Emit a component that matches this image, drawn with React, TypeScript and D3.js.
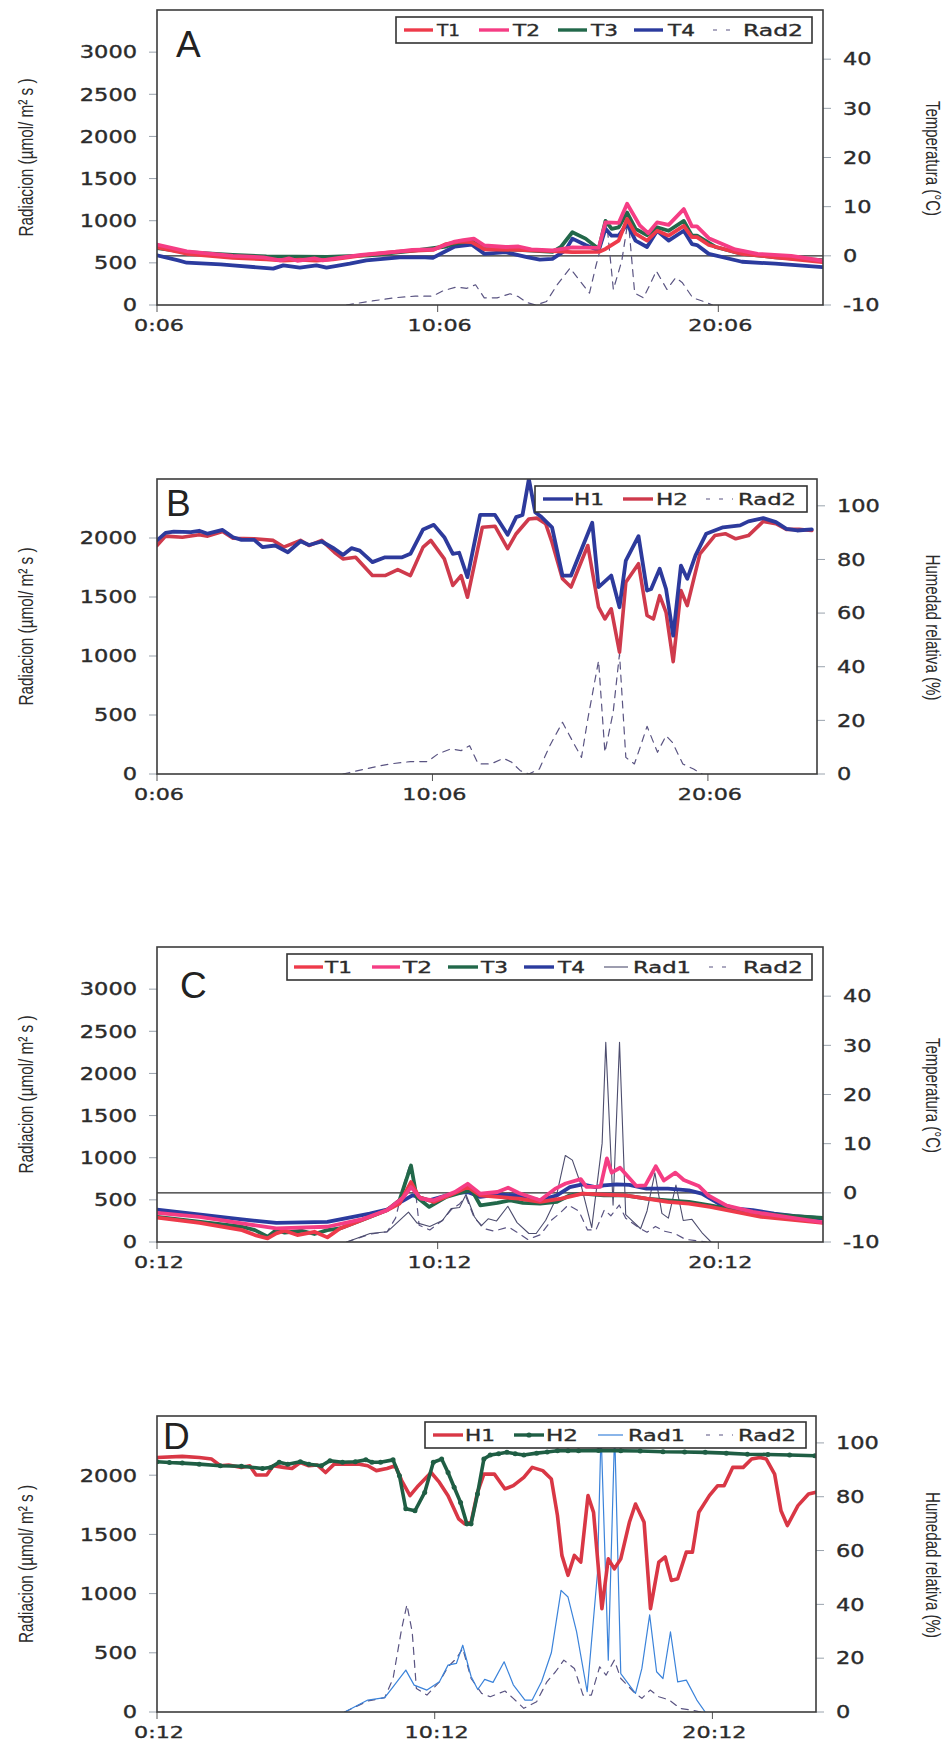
import React from 'react';
import * as d3 from 'd3';

type P = [number, number];

// ---------- Day 1 (panels A & B), hours after 0:06 ----------
const day1T1: P[] = [[0,1.76],[1.06,0.42],[2.7,-0.4],[3.9,-0.7],[4.5,-0.95],[5.09,-0.8],[5.68,-0.95],[6.27,-0.7],[7.46,0.2],[8.65,0.9],[9.83,1.2],[10.3,2.4],[10.78,2.9],[11.21,2.8],[11.67,1.3],[12.88,1.22],[14.09,0.95],[14.8,0.75],[15.74,0.8],[15.98,1.4],[16.45,3.1],[16.75,7.5],[17.05,4.5],[17.46,3.1],[17.82,5.1],[18.23,4.1],[18.77,6.1],[19.06,3.8],[19.24,3.8],[19.66,2.2],[20.84,0.4],[22.03,-0.3],[23.71,-1.3]];
const day1T2: P[] = [[0,2.3],[1.06,0.9],[2.7,0.0],[3.79,-0.3],[4.39,-0.93],[4.7,-0.5],[5.0,-1.0],[5.61,-0.5],[5.91,-0.93],[6.36,-0.5],[7.27,0.2],[8.65,0.9],[9.09,1.2],[9.85,1.3],[10.61,2.9],[10.91,3.2],[11.29,3.5],[11.67,2.1],[12.42,1.8],[12.88,1.9],[13.33,1.3],[14.09,1.1],[14.8,1.7],[15.74,1.6],[15.98,6.8],[16.45,6.7],[16.75,10.6],[17.2,6.2],[17.5,4.6],[17.82,6.8],[18.23,6.3],[18.77,9.5],[19.06,6.0],[19.24,6.0],[19.66,3.6],[20.6,1.3],[21.4,0.4],[22.6,0.0],[23.71,-1.0]];
const day1T3: P[] = [[0,1.6],[1.06,0.75],[2.7,0.2],[3.9,-0.1],[6.06,-0.2],[7.58,0.1],[9.09,1.0],[10.3,1.9],[10.61,2.5],[11.21,3.0],[11.67,1.4],[12.88,1.2],[14.09,0.8],[14.39,1.8],[14.8,4.8],[15.27,3.5],[15.74,1.4],[15.98,7.1],[16.2,5.5],[16.45,5.8],[16.75,8.8],[17.05,5.5],[17.46,4.2],[17.82,5.8],[18.23,5.1],[18.77,7.1],[19.06,4.1],[19.24,4.1],[19.9,1.8],[20.84,0.4],[22.03,-0.3],[23.71,-0.9]];
const day1T4: P[] = [[0,0.1],[0.76,-0.93],[1.06,-1.4],[2.27,-1.73],[2.7,-1.94],[4.14,-2.6],[4.5,-1.94],[5.09,-2.4],[5.68,-1.94],[6.04,-2.4],[6.87,-1.6],[7.46,-0.93],[8.65,-0.3],[9.55,-0.3],[9.83,-0.4],[10.61,1.9],[11.21,2.3],[11.67,0.4],[12.42,0.75],[13.18,-0.26],[13.64,-0.79],[14.09,-0.6],[14.55,1.1],[14.8,3.5],[15.27,2.2],[15.74,1.1],[15.98,5.5],[16.2,4.1],[16.45,4.1],[16.75,6.5],[17.05,3.1],[17.46,1.8],[17.82,5.1],[18.23,3.1],[18.77,5.1],[19.06,2.4],[19.24,2.2],[19.66,0.4],[20.84,-1.2],[22.03,-1.6],[23.71,-2.3]];
const day1H1: P[] = [[0,87.1],[0.31,89.9],[0.61,90.4],[1.23,90.2],[1.53,90.7],[1.84,89.6],[2.38,91.0],[2.76,88.3],[3.07,87.3],[3.53,87.3],[3.83,84.6],[4.29,85.2],[4.75,82.7],[5.21,86.8],[5.52,85.4],[5.98,86.7],[6.44,84.0],[6.75,81.7],[7.06,84.2],[7.36,83.3],[7.82,79.0],[8.28,80.8],[8.9,80.8],[9.2,82.1],[9.66,91.2],[10.05,92.9],[10.43,88.3],[10.74,82.1],[10.97,82.5],[11.27,73.4],[11.73,96.6],[12.27,96.6],[12.73,89.2],[13.04,95.8],[13.27,96.6],[13.5,110],[13.73,97.6],[13.96,95.8],[14.34,92.0],[14.72,74.0],[15.03,74.0],[15.8,93.7],[16.03,69.7],[16.49,74.0],[16.79,62.2],[17.02,79.6],[17.48,88.7],[17.79,68.4],[17.94,69.0],[18.25,76.5],[18.48,69.0],[18.74,51.6],[19.02,77.7],[19.25,72.8],[19.55,81.5],[19.94,89.6],[20.55,92.0],[21.17,92.7],[21.47,94.2],[22.01,95.4],[22.47,93.9],[22.85,91.4],[23.24,90.8],[23.77,91.2]];
const day1H2: P[] = [[0,85.2],[0.31,88.7],[0.92,88.3],[1.53,89.2],[1.84,88.7],[2.38,90.4],[2.76,87.9],[3.53,87.7],[4.22,87.1],[4.6,84.6],[5.21,87.1],[5.52,85.2],[5.98,87.1],[6.44,82.7],[6.75,80.2],[7.21,80.8],[7.82,74.0],[8.28,74.0],[8.74,76.2],[9.2,74.0],[9.66,84.6],[9.94,87.1],[10.43,80.2],[10.74,70.3],[11.04,74.0],[11.27,65.9],[11.81,92.0],[12.27,92.4],[12.73,84.0],[13.04,89.6],[13.5,95.1],[13.8,95.4],[14.11,93.3],[14.34,86.4],[14.72,72.8],[15.03,69.7],[15.64,85.2],[16.03,62.2],[16.26,57.8],[16.49,61.6],[16.79,45.4],[17.02,71.5],[17.48,78.4],[17.79,59.1],[18.02,57.8],[18.25,66.5],[18.48,60.3],[18.74,41.9],[19.02,68.4],[19.25,62.8],[19.71,82.1],[20.25,88.9],[20.63,89.6],[21.01,87.7],[21.47,88.9],[22.01,94.2],[22.47,93.3],[22.85,91.2],[23.31,91.2],[23.77,90.8]];
const day1Rad2: P[] = [[6.75,0],[7.67,48],[8.44,85],[9.2,105],[9.82,105],[10.2,170],[10.66,212],[11.04,198],[11.35,240],[11.66,85],[12.12,85],[12.58,133],[12.88,99],[13.19,28],[13.5,0],[13.88,42],[14.26,240],[14.72,438],[15.11,268],[15.41,141],[15.64,466],[16.03,960],[16.26,184],[16.56,523],[16.79,1017],[17.02,141],[17.33,85],[17.56,240],[17.79,404],[18.17,184],[18.48,325],[18.71,268],[19.09,85],[19.48,42],[19.79,0]];

// ---------- Day 2 (panels C & D), hours after 0:12 ----------
const day2T1: P[] = [[0,-5.02],[1.52,-6.09],[3.03,-7.58],[3.49,-8.59],[3.94,-9.26],[4.25,-8.25],[4.55,-7.71],[5.0,-8.59],[5.61,-7.92],[6.07,-9.06],[6.52,-7.24],[7.28,-5.56],[8.19,-3.54],[8.64,-2.19],[9.05,2.19],[9.33,-0.84],[9.86,-1.85],[10.61,-0.03],[11.07,1.18],[11.52,-0.5],[12.13,-0.84],[12.89,-1.18],[13.65,-1.85],[14.4,-1.18],[15.16,-0.17],[15.92,-0.37],[16.68,-0.5],[17.44,-1.18],[18.2,-1.85],[18.95,-2.19],[19.71,-2.86],[20.62,-3.87],[21.53,-4.88],[22.74,-5.56],[23.73,-6.1]];
const day2T2: P[] = [[0,-4.07],[1.52,-4.88],[3.03,-6.23],[4.25,-7.24],[6.07,-6.9],[7.28,-5.42],[8.19,-3.54],[8.79,-0.84],[9.05,1.18],[9.4,-1.18],[9.86,-1.52],[10.61,0.17],[11.07,1.85],[11.52,-0.17],[12.13,0.17],[12.51,1.04],[12.89,-0.03],[13.65,-1.52],[14.18,0.8],[14.56,1.9],[15.1,2.8],[15.3,1.2],[15.8,1.2],[16.03,7.0],[16.2,4.1],[16.5,5.1],[17.08,1.4],[17.4,1.5],[17.77,5.4],[18.06,2.5],[18.47,4.1],[18.77,2.6],[19.3,1.4],[19.66,-0.6],[20.3,-2.6],[21.23,-3.87],[21.99,-4.55],[23.73,-6.0]];
const day2T3: P[] = [[0,-4.88],[3.03,-6.9],[3.49,-7.58],[3.94,-8.92],[4.25,-7.58],[4.55,-8.11],[5.16,-7.71],[5.61,-8.38],[6.07,-7.58],[6.52,-7.24],[7.28,-5.56],[8.19,-3.54],[8.64,-1.52],[9.05,5.56],[9.25,-0.84],[9.7,-2.86],[10.31,-0.84],[10.92,0.17],[11.22,0.5],[11.52,-2.53],[12.13,-2.05],[12.59,-1.52],[13.04,-2.05],[13.65,-2.19],[14.25,-1.85],[14.71,-0.5],[15.16,-0.17],[15.92,-0.5],[16.68,-0.5],[17.44,-1.18],[18.2,-1.52],[18.95,-1.85],[19.71,-2.53],[20.62,-3.54],[21.53,-4.21],[22.74,-4.75],[23.73,-5.1]];
const day2T4: P[] = [[0,-3.4],[3.03,-5.42],[4.25,-6.09],[6.07,-5.89],[7.58,-4.21],[8.19,-3.4],[8.79,-1.52],[9.1,-0.5],[9.7,-1.52],[10.61,-0.03],[11.07,0.17],[11.52,-0.84],[12.13,-0.37],[12.89,-0.5],[13.65,-1.52],[14.25,-0.5],[14.71,1.18],[15.16,1.72],[15.62,1.18],[15.92,1.52],[16.38,1.72],[16.83,1.6],[17.44,0.84],[18.2,0.84],[18.95,0.5],[19.41,-0.17],[20.02,-2.19],[20.62,-3.2],[21.23,-3.54],[21.99,-4.21],[22.74,-4.75],[23.73,-5.22]];
const day2H1: P[] = [[0,94.6],[0.91,95.0],[1.52,94.6],[1.97,94.0],[2.28,91.5],[2.58,91.8],[3.04,90.9],[3.34,91.5],[3.57,88.1],[3.95,88.1],[4.18,91.5],[4.56,90.9],[4.86,90.5],[5.16,92.7],[5.47,91.5],[5.77,91.8],[6.07,89.0],[6.38,92.1],[6.83,92.1],[7.29,92.1],[7.59,91.5],[7.9,89.7],[8.28,90.5],[8.58,91.5],[8.81,86.0],[9.11,80.4],[9.41,84.1],[9.87,89.0],[10.17,85.3],[10.48,80.4],[10.86,71.8],[11.08,69.9],[11.31,70.5],[11.54,81.6],[11.77,88.4],[12.15,88.4],[12.53,82.9],[12.83,84.1],[13.21,87.2],[13.51,90.9],[13.89,89.7],[14.2,86.6],[14.42,73.0],[14.58,58.2],[14.8,50.8],[15.03,58.2],[15.26,55.7],[15.52,80.4],[15.72,74.2],[16.02,38.4],[16.25,56.9],[16.47,53.2],[16.7,56.9],[17.01,70.5],[17.23,77.3],[17.54,70.5],[17.77,38.4],[18.07,55.7],[18.3,57.6],[18.52,48.9],[18.75,49.5],[19.06,59.4],[19.28,59.4],[19.51,74.2],[19.89,80.4],[20.19,84.1],[20.42,84.1],[20.73,90.9],[21.11,90.9],[21.41,94.0],[21.71,94.6],[21.94,94.0],[22.24,88.4],[22.47,74.8],[22.7,69.3],[23.08,76.7],[23.46,81.0],[23.69,81.6]];
const day2H2: P[] = [[0,93.0],[0.45,92.7],[0.91,92.5],[1.52,92.1],[2.28,91.5],[3.04,91.3],[3.8,90.5],[4.1,90.9],[4.4,92.8],[4.71,92.1],[5.16,93.0],[5.47,92.1],[5.92,91.5],[6.23,93.4],[6.68,92.8],[7.14,93.0],[7.52,93.7],[7.74,92.8],[8.05,92.8],[8.5,93.7],[8.73,87.8],[8.96,75.5],[9.29,74.8],[9.64,81.6],[9.95,92.8],[10.25,94.0],[10.48,89.0],[10.7,83.5],[10.93,77.9],[11.16,69.9],[11.31,69.9],[11.54,81.0],[11.77,94.0],[12.0,95.5],[12.3,96.0],[12.6,96.5],[12.9,96.0],[13.21,95.5],[13.67,96.2],[14.05,96.6],[14.42,97.1],[14.8,97.1],[15.18,97.1],[15.9,97.2],[16.7,97.1],[17.4,97.0],[18.22,96.7],[19.0,96.6],[19.74,96.5],[20.5,96.2],[21.26,95.8],[22.0,95.7],[22.78,95.5],[23.69,95.2]];
const day2Rad1: P[] = [[6.76,0],[7.59,101],[8.2,121],[8.5,213],[8.96,354],[9.26,227],[9.72,185],[10.17,255],[10.48,396],[10.78,410],[11.01,564],[11.31,300],[11.55,190],[11.8,275],[12.1,250],[12.5,424],[12.83,230],[13.25,101],[13.51,101],[13.85,258],[14.2,500],[14.55,1027],[14.8,971],[15.11,676],[15.49,171],[15.86,1170],[15.99,2370],[16.25,438],[16.48,2370],[16.7,325],[17.23,157],[17.46,368],[17.74,820],[17.99,340],[18.22,283],[18.49,676],[18.75,255],[19.06,269],[19.44,101],[19.74,0]];
const day2Rad2: P[] = [[6.76,0],[7.59,93],[8.2,121],[8.5,283],[8.81,704],[9.0,906],[9.19,676],[9.34,199],[9.72,143],[10.17,255],[10.48,382],[10.78,452],[11.01,536],[11.31,283],[11.69,157],[12.0,129],[12.53,177],[12.83,115],[13.21,31],[13.67,87],[14.04,255],[14.35,340],[14.65,438],[15.03,368],[15.34,143],[15.64,143],[15.94,382],[16.17,311],[16.47,438],[16.7,283],[17.16,171],[17.46,115],[17.76,185],[18.07,129],[18.45,101],[18.83,31],[19.21,17],[19.59,0]];

// ---------- axis ticks / labels ----------
const radTicksA = [0, 500, 1000, 1500, 2000, 2500, 3000];
const radTicksB = [0, 500, 1000, 1500, 2000];
const tempTicks = [-10, 0, 10, 20, 30, 40];
const humTicks = [0, 20, 40, 60, 80, 100];
const timeTickHours = [0, 10, 20];
const timeLabels1 = ['0:06', '10:06', '20:06'];
const timeLabels2 = ['0:12', '10:12', '20:12'];

const radTitle = 'Radiacion (\u00b5mol/ m\u00b2 s )';
const tempTitle = 'Temperatura (\u00b0C)';
const humTitle = 'Humedad relativa (%)';

// ---------- styles ----------
const TICKFONT = '"DejaVu Sans", Verdana, sans-serif';
const TITLEFONT = '"Liberation Sans Narrow", "Liberation Sans", Arial, sans-serif';
const INK = '#2b2b2b';

type Style = { color: string; width: number; dash?: string; dots?: boolean };
type Series = { name: string; data: P[]; axis: 'L' | 'R'; style: Style };
type LegItem = { name: string; x0: number; x1: number; tx: number; tw: number };
type PanelCfg = {
  letter: string; lx: number; ly: number;
  left: number; top: number; right: number; bottom: number;
  xDomain: [number, number]; lDomain: [number, number]; rDomain: [number, number];
  lTicks: number[]; rTicks: number[]; xLabels: string[];
  rTitle: string; rTitleLen: number; zeroLine: boolean;
  series: Series[];
  legBox: [number, number, number, number];
  legend: LegItem[];
};

const sT1: Style = { color: '#ee3a4a', width: 3.8 };
const sT2: Style = { color: '#f53d84', width: 3.8 };
const sT3: Style = { color: '#22684a', width: 3.8 };
const sT4: Style = { color: '#2b3b9e', width: 3.8 };
const sRad2: Style = { color: '#5a5482', width: 1.2, dash: '7,6' };
const sRad1C: Style = { color: '#4d4d6e', width: 1.1 };
const sRad1D: Style = { color: '#3b83da', width: 1.2 };
const sH1B: Style = { color: '#2d3a9c', width: 3.8 };
const sH2B: Style = { color: '#cf3a4c', width: 3.6 };
const sH1D: Style = { color: '#d93745', width: 3.6 };
const sH2D: Style = { color: '#1f5e44', width: 3.6, dots: true };

const panels: PanelCfg[] = [
  {
    letter: 'A', lx: 176, ly: 57,
    left: 157, top: 10, right: 823, bottom: 305,
    xDomain: [0, 23.73], lDomain: [0, 3500], rDomain: [-10, 50],
    lTicks: radTicksA, rTicks: tempTicks, xLabels: timeLabels1,
    rTitle: tempTitle, rTitleLen: 115, zeroLine: true,
    series: [
      { name: 'Rad2', data: day1Rad2, axis: 'L', style: sRad2 },
      { name: 'T4', data: day1T4, axis: 'R', style: sT4 },
      { name: 'T3', data: day1T3, axis: 'R', style: sT3 },
      { name: 'T1', data: day1T1, axis: 'R', style: sT1 },
      { name: 'T2', data: day1T2, axis: 'R', style: sT2 },
    ],
    legBox: [396, 17, 812, 43],
    legend: [
      { name: 'T1', x0: 404, x1: 433, tx: 437, tw: 23 },
      { name: 'T2', x0: 479, x1: 509, tx: 513, tw: 27 },
      { name: 'T3', x0: 558, x1: 587, tx: 591, tw: 27 },
      { name: 'T4', x0: 634, x1: 663, tx: 668, tw: 27 },
      { name: 'Rad2', x0: 713, x1: 737, tx: 743, tw: 60 },
    ],
  },
  {
    letter: 'B', lx: 166, ly: 516,
    left: 157, top: 479, right: 817, bottom: 774,
    xDomain: [0, 23.96], lDomain: [0, 2500], rDomain: [0, 110],
    lTicks: radTicksB, rTicks: humTicks, xLabels: timeLabels1,
    rTitle: humTitle, rTitleLen: 146, zeroLine: false,
    series: [
      { name: 'Rad2', data: day1Rad2, axis: 'L', style: sRad2 },
      { name: 'H2', data: day1H2, axis: 'R', style: sH2B },
      { name: 'H1', data: day1H1, axis: 'R', style: sH1B },
    ],
    legBox: [535, 486, 807, 512],
    legend: [
      { name: 'H1', x0: 543, x1: 573, tx: 574, tw: 30 },
      { name: 'H2', x0: 623, x1: 653, tx: 656, tw: 32 },
      { name: 'Rad2', x0: 706, x1: 733, tx: 738, tw: 58 },
    ],
  },
  {
    letter: 'C', lx: 180, ly: 998,
    left: 157, top: 947, right: 823, bottom: 1242,
    xDomain: [0, 23.73], lDomain: [0, 3500], rDomain: [-10, 50],
    lTicks: radTicksA, rTicks: tempTicks, xLabels: timeLabels2,
    rTitle: tempTitle, rTitleLen: 115, zeroLine: true,
    series: [
      { name: 'Rad2', data: day2Rad2, axis: 'L', style: sRad2 },
      { name: 'Rad1', data: day2Rad1, axis: 'L', style: sRad1C },
      { name: 'T4', data: day2T4, axis: 'R', style: sT4 },
      { name: 'T3', data: day2T3, axis: 'R', style: sT3 },
      { name: 'T1', data: day2T1, axis: 'R', style: sT1 },
      { name: 'T2', data: day2T2, axis: 'R', style: sT2 },
    ],
    legBox: [287, 954, 812, 980],
    legend: [
      { name: 'T1', x0: 294, x1: 323, tx: 325, tw: 27 },
      { name: 'T2', x0: 372, x1: 400, tx: 403, tw: 29 },
      { name: 'T3', x0: 448, x1: 478, tx: 481, tw: 27 },
      { name: 'T4', x0: 524, x1: 554, tx: 558, tw: 27 },
      { name: 'Rad1', x0: 604, x1: 628, tx: 633, tw: 58 },
      { name: 'Rad2', x0: 709, x1: 730, tx: 743, tw: 60 },
    ],
  },
  {
    letter: 'D', lx: 163, ly: 1449,
    left: 157, top: 1416, right: 816, bottom: 1712,
    xDomain: [0, 23.73], lDomain: [0, 2500], rDomain: [0, 110],
    lTicks: radTicksB, rTicks: humTicks, xLabels: timeLabels2,
    rTitle: humTitle, rTitleLen: 146, zeroLine: false,
    series: [
      { name: 'Rad2', data: day2Rad2, axis: 'L', style: sRad2 },
      { name: 'Rad1', data: day2Rad1, axis: 'L', style: sRad1D },
      { name: 'H1', data: day2H1, axis: 'R', style: sH1D },
      { name: 'H2', data: day2H2, axis: 'R', style: sH2D },
    ],
    legBox: [425, 1422, 806, 1448],
    legend: [
      { name: 'H1', x0: 433, x1: 463, tx: 465, tw: 30 },
      { name: 'H2', x0: 514, x1: 544, tx: 546, tw: 32 },
      { name: 'Rad1', x0: 598, x1: 623, tx: 628, tw: 57 },
      { name: 'Rad2', x0: 706, x1: 733, tx: 738, tw: 58 },
    ],
  },
];

function tickW(s: string): number {
  let w = 0;
  for (const c of s) w += c === ':' ? 7 : c === '-' ? 8 : 14.3;
  return w;
}

function Panel({ cfg, idx }: { cfg: PanelCfg; idx: number }) {
  const x = d3.scaleLinear().domain(cfg.xDomain).range([cfg.left, cfg.right]);
  const yL = d3.scaleLinear().domain(cfg.lDomain).range([cfg.bottom, cfg.top]);
  const yR = d3.scaleLinear().domain(cfg.rDomain).range([cfg.bottom, cfg.top]);
  const clipId = `clip${idx}`;
  const cy = (cfg.top + cfg.bottom) / 2;
  const legCy = (cfg.legBox[1] + cfg.legBox[3]) / 2;
  const styleOf = (name: string) => cfg.series.find((s) => s.name === name)!.style;
  const tickText = { fontFamily: TICKFONT, fill: INK, stroke: INK, strokeWidth: 0.35 };

  return (
    <g>
      <defs>
        <clipPath id={clipId}>
          <rect x={cfg.left} y={cfg.top} width={cfg.right - cfg.left} height={cfg.bottom - cfg.top} />
        </clipPath>
      </defs>

      {cfg.lTicks.map((t) => {
        const yy = yL(t);
        const s = String(t);
        const w = tickW(s);
        return (
          <g key={'l' + t}>
            <line x1={cfg.left - 8} x2={cfg.left} y1={yy} y2={yy} stroke="#9aa3ad" strokeWidth={1} />
            <text x={cfg.left - 20 - w} y={yy + 6.3} fontSize={17} {...tickText}
              textLength={w} lengthAdjust="spacingAndGlyphs">{s}</text>
          </g>
        );
      })}
      {cfg.rTicks.map((t) => {
        const yy = yR(t);
        const s = String(t);
        const w = tickW(s);
        return (
          <g key={'r' + t}>
            <line x1={cfg.right} x2={cfg.right + 8} y1={yy} y2={yy} stroke="#9aa3ad" strokeWidth={1} />
            <text x={cfg.right + 20} y={yy + 6.3} fontSize={17} {...tickText}
              textLength={w} lengthAdjust="spacingAndGlyphs">{s}</text>
          </g>
        );
      })}
      {timeTickHours.map((h, i) => {
        const xx = x(h);
        const s = cfg.xLabels[i];
        const w = tickW(s);
        return (
          <g key={'x' + h}>
            <line x1={xx} x2={xx} y1={cfg.bottom} y2={cfg.bottom + 7} stroke="#555" strokeWidth={1} />
            <text x={xx - w / 2 + 2} y={cfg.bottom + 25.5} fontSize={16.5} {...tickText}
              textLength={w} lengthAdjust="spacingAndGlyphs">{s}</text>
          </g>
        );
      })}

      <text transform={`translate(25,${cy}) rotate(-90)`} textAnchor="middle" dominantBaseline="central"
        fontFamily={TITLEFONT} fontSize={21} fill={INK} textLength={158} lengthAdjust="spacingAndGlyphs">
        {radTitle}
      </text>
      <text transform={`translate(933,${cy + 1}) rotate(90)`} textAnchor="middle" dominantBaseline="central"
        fontFamily={TITLEFONT} fontSize={21} fill={INK} textLength={cfg.rTitleLen} lengthAdjust="spacingAndGlyphs">
        {cfg.rTitle}
      </text>

      <g clipPath={`url(#${clipId})`}>
        {cfg.zeroLine && (
          <line x1={cfg.left} x2={cfg.right} y1={yR(0)} y2={yR(0)} stroke="#2a2a2a" strokeWidth={1.3} />
        )}
        {cfg.series.map((s) => {
          const ys = s.axis === 'L' ? yL : yR;
          const path = d3.line<P>().x((d) => x(d[0])).y((d) => ys(d[1]))(s.data) || '';
          return (
            <g key={s.name}>
              <path d={path} fill="none" stroke={s.style.color} strokeWidth={s.style.width}
                strokeDasharray={s.style.dash} strokeLinejoin="round" strokeLinecap="round" />
              {s.style.dots && s.data.map((d, i) => (
                <circle key={i} cx={x(d[0])} cy={ys(d[1])} r={2.5} fill={s.style.color} />
              ))}
            </g>
          );
        })}
      </g>

      <rect x={cfg.left} y={cfg.top} width={cfg.right - cfg.left} height={cfg.bottom - cfg.top}
        fill="none" stroke="#3c3c3c" strokeWidth={1.6} />

      <text x={cfg.lx} y={cfg.ly} fontFamily='"Liberation Sans", Arial, sans-serif' fontSize={37} fill="#222">
        {cfg.letter}
      </text>

      <rect x={cfg.legBox[0]} y={cfg.legBox[1]} width={cfg.legBox[2] - cfg.legBox[0]}
        height={cfg.legBox[3] - cfg.legBox[1]} fill="#fff" stroke="#333" strokeWidth={1.6} />
      {cfg.legend.map((it) => {
        const st = styleOf(it.name);
        return (
          <g key={'lg' + it.name}>
            <line x1={it.x0} x2={it.x1} y1={legCy} y2={legCy} stroke={st.color}
              strokeWidth={Math.min(st.width, 3.4)} strokeDasharray={st.dash ? '4,9' : undefined} />
            {st.dots && <circle cx={(it.x0 + it.x1) / 2} cy={legCy} r={2.6} fill={st.color} />}
            <text x={it.tx} y={legCy + 5.6} fontSize={15.5} {...tickText}
              textLength={it.tw} lengthAdjust="spacingAndGlyphs">{it.name}</text>
          </g>
        );
      })}
    </g>
  );
}

export default function App() {
  return (
    <svg width={952} height={1745} viewBox="0 0 952 1745"
      style={{ position: 'absolute', left: 0, top: 0, background: '#fff' }}>
      <rect x={0} y={0} width={952} height={1745} fill="#fff" />
      {panels.map((p, i) => (
        <Panel key={p.letter} cfg={p} idx={i} />
      ))}
    </svg>
  );
}
